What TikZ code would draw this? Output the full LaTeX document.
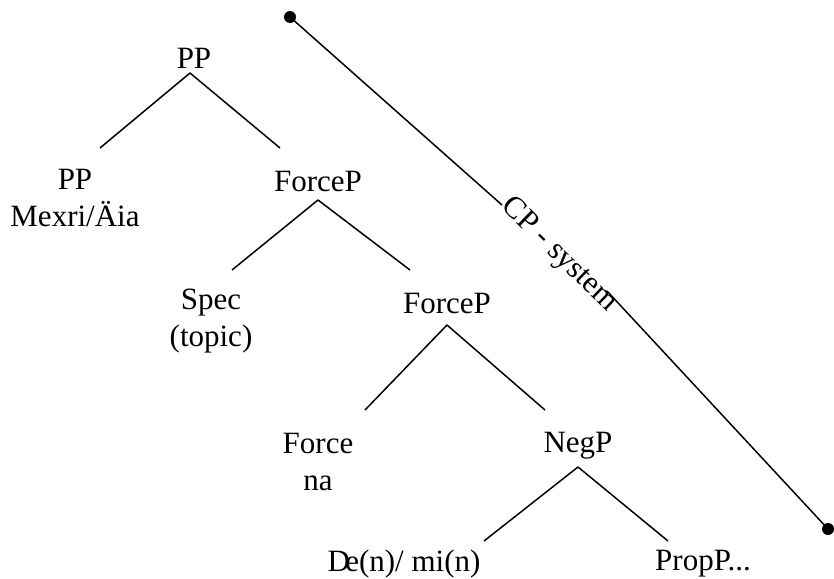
\documentclass[tikz,border=0pt]{standalone}
\usepackage{fontspec}
\setmainfont{Liberation Serif}
\begin{document}
\begin{tikzpicture}[x=1pt,y=-1pt,
  lbl/.style={inner sep=0pt,align=center,font=\fontsize{31}{37}\selectfont},
  edge/.style={line width=1.5pt},
  dot/.style={circle,fill=black,inner sep=0pt,minimum size=12pt}]
\useasboundingbox (0,0) rectangle (834,578);
% nodes
\node[lbl] (pp) at (194,58) {PP};
\node[lbl] (ppl) at (75,198) {PP\\Mexri/Äia};
\node[lbl] (fp1) at (318,181) {ForceP};
\node[lbl] (spec) at (211,321) {Spec\\(topic)};
\node[lbl] (fp2) at (447,303) {ForceP};
\node[lbl] (force) at (318,462) {Force\\na};
\node[lbl] (negp) at (578,446) {NegP};
\node[lbl] (den) at (404,564) {D\kern-0.15em e(n)/ mi(n)};
\node[lbl] (propp) at (703,564) {PropP...};
% branch points
\coordinate (a1) at (190,73);
\coordinate (l1) at (100,148);
\coordinate (r1) at (280,148);
\coordinate (a2) at (318,200);
\coordinate (l2) at (232,270);
\coordinate (r2) at (410,270);
\coordinate (a3) at (447,325);
\coordinate (l3) at (365,410);
\coordinate (r3) at (545,410);
\coordinate (a4) at (578,467);
\coordinate (l4) at (484,541);
\coordinate (r4) at (668,541);
\draw[edge] (a1) -- (l1) (a1) -- (r1);
\draw[edge] (a2) -- (l2) (a2) -- (r2);
\draw[edge] (a3) -- (l3) (a3) -- (r3);
\draw[edge] (a4) -- (l4) (a4) -- (r4);
% CP-system line
\node[dot] (d1) at (290,17) {};
\node[dot] (d2) at (828,529) {};
\node[lbl,rotate=-44] (cp) at (559,255) {CP - system};
\coordinate (g1) at (502,205);
\coordinate (g2) at (607,291);
\draw[edge] (d1.center) -- (g1);
\draw[edge] (g2) -- (d2.center);
\end{tikzpicture}
\end{document}
